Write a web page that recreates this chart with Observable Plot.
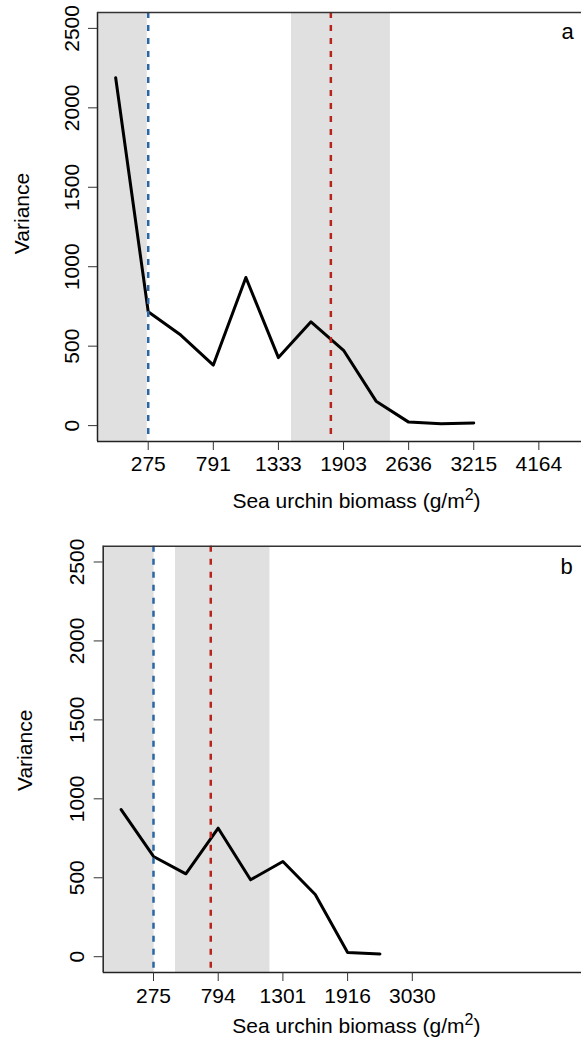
<!DOCTYPE html>
<html>
<head>
<meta charset="utf-8">
<script src="https://cdn.jsdelivr.net/npm/d3@7"></script>
<script src="https://cdn.jsdelivr.net/npm/@observablehq/plot@0.6"></script>
<style>
  html, body { margin: 0; padding: 0; background: #fff; }
  #chart svg { display: block; }
</style>
</head>
<body>
<div id="chart"></div>
<script>
// Panel a: variance along the biomass gradient (positions are bin indices)
const positionsA = [1, 2, 3, 4, 5, 6, 7, 8, 9, 10, 11, 12];
const varianceA = [2189, 717, 570, 381, 932, 428, 653, 474, 154, 22, 11, 16];
const tickPosA = [2, 4, 6, 8, 10, 12, 14];
const tickLabelsA = ["275", "791", "1333", "1903", "2636", "3215", "4164"];
const lowerThresholdA = 2;
const upperThresholdA = 7.61;
const bandsA = [[0, 1.97], [6.40, 9.44]];

// Panel b
const positionsB = [1, 2, 3, 4, 5, 6, 7, 8, 9];
const varianceB = [932, 635, 525, 814, 487, 603, 394, 27, 17];
const tickPosB = [2, 4, 6, 8, 10];
const tickLabelsB = ["275", "794", "1301", "1916", "3030"];
const lowerThresholdB = 2;
const upperThresholdB = 3.77;
const bandsB = [[0, 2.02], [2.68, 5.60]];

const yTicks = [0, 500, 1000, 1500, 2000, 2500];
const yDomain = [-100, 2600];
const yLabel = "Variance";
const xLabel = "Sea urchin biomass (g/m2)";

const FONT = "'Liberation Sans', Arial, Helvetica, sans-serif";
const BLUE = "#2b66a6";
const RED = "#b8231b";
const SHADE = "#e0e0e0";
const INK = "#222";

function panel(cfg) {
  const rows = cfg.positions.map((k, i) => ({k, v: cfg.values[i]}));
  const svg = Plot.plot({
    width: 581,
    height: cfg.height,
    marginTop: cfg.marginTop,
    marginBottom: cfg.marginBottom,
    marginLeft: cfg.marginLeft,
    marginRight: 0,
    style: {fontFamily: FONT, background: "#fff", color: "#000", overflow: "visible"},
    x: {domain: cfg.xDomain},
    y: {domain: yDomain},
    marks: [
      Plot.rect(cfg.bands, {x1: d => d[0], x2: d => d[1], y1: yDomain[0], y2: yDomain[1], fill: SHADE, clip: true}),
      Plot.line(rows, {x: "k", y: "v", stroke: "#000", strokeWidth: 3, strokeLinejoin: "round"}),
      Plot.ruleX([cfg.lower], {stroke: BLUE, strokeWidth: 2.5, strokeDasharray: "6,7", strokeLinecap: "butt"}),
      Plot.ruleX([cfg.upper], {stroke: RED, strokeWidth: 2.5, strokeDasharray: "6,7", strokeLinecap: "butt"}),
      // box: left, top and bottom edges
      Plot.ruleX([cfg.xDomain[0]], {stroke: INK, strokeWidth: 1.5}),
      Plot.ruleY([yDomain[1]], {stroke: "#333", strokeWidth: 1.5}),
      Plot.ruleY([yDomain[0]], {stroke: INK, strokeWidth: 1.5}),
      Plot.axisX(cfg.ticks, {
        tickSize: 9, tickPadding: cfg.tickPadX, fontSize: 21, stroke: "#333",
        tickFormat: d => cfg.tickLabels[cfg.ticks.indexOf(d)], label: null
      }),
      Plot.axisY(yTicks, {
        tickSize: 9, tickRotate: -90, tickPadding: cfg.tickPadY, fontSize: 21, stroke: "#333",
        tickFormat: d => String(d), label: null
      }),
      Plot.text([yLabel], {
        frameAnchor: "left", rotate: -90, lineAnchor: "bottom", textAnchor: "middle",
        dx: cfg.yLabelDx, dy: cfg.yLabelDy, fontSize: 21, fill: "#000"
      }),
      Plot.text([xLabel], {
        frameAnchor: "bottom", lineAnchor: "bottom", textAnchor: "middle",
        dx: cfg.xLabelDx, dy: cfg.xLabelDy, fontSize: 21, fill: "#000"
      }),
      Plot.text([cfg.letter], {
        frameAnchor: "top-right", lineAnchor: "bottom", textAnchor: "middle",
        dx: cfg.letterDx, dy: cfg.letterDy, fontSize: 22, fill: "#000"
      })
    ]
  });
  // set the unit exponent as a raised, smaller "2"
  svg.querySelectorAll("text").forEach(t => {
    if (t.textContent === xLabel) {
      t.textContent = "";
      const ns = "http://www.w3.org/2000/svg";
      const a = document.createElementNS(ns, "tspan");
      a.textContent = "Sea urchin biomass (g/m";
      const s = document.createElementNS(ns, "tspan");
      s.textContent = "2";
      s.setAttribute("font-size", "16");
      s.setAttribute("dy", "-8");
      const c = document.createElementNS(ns, "tspan");
      c.textContent = ")";
      c.setAttribute("dy", "8");
      t.append(a, s, c);
    }
  });
  return svg;
}

const chart = document.getElementById("chart");
chart.append(panel({
  positions: positionsA, values: varianceA, ticks: tickPosA, tickLabels: tickLabelsA,
  lower: lowerThresholdA, upper: upperThresholdA, bands: bandsA, letter: "a",
  height: 520, marginTop: 12, marginBottom: 79, marginLeft: 97, xDomain: [0.442, 15.31],
  tickPadX: 6, tickPadY: 9.7,
  yLabelDx: -68.7, yLabelDy: -13.5, xLabelDx: 17, xLabelDy: 66,
  letterDx: -14, letterDy: 26.3
}));
chart.append(panel({
  positions: positionsB, values: varianceB, ticks: tickPosB, tickLabels: tickLabelsB,
  lower: lowerThresholdB, upper: upperThresholdB, bands: bandsB, letter: "b",
  height: 522, marginTop: 25.7, marginBottom: 70, marginLeft: 102.7, xDomain: [0.445, 15.23],
  tickPadX: 7, tickPadY: 10.4,
  yLabelDx: -71.7, yLabelDy: -9, xLabelDx: 14, xLabelDy: 60,
  letterDx: -15, letterDy: 27.6
}));
</script>
</body>
</html>
